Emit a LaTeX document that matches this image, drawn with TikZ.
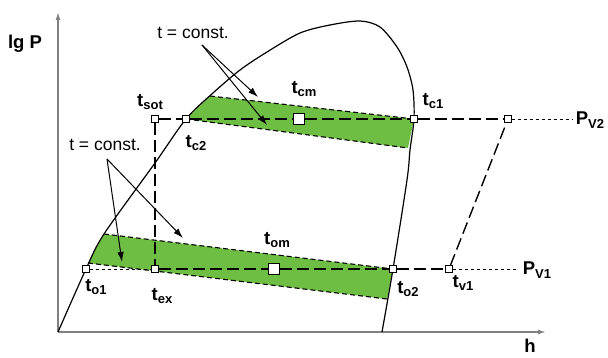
\documentclass[tikz,border=0pt]{standalone}
\usepackage{fontspec}
\setmainfont{Liberation Sans}
\usepackage{tikz}
\usetikzlibrary{arrows.meta}

\definecolor{bandgreen}{RGB}{110,190,68}
\definecolor{axisgray}{RGB}{128,128,128}
\newcommand{\tsub}[2]{#1\raisebox{-0.35ex}{\fontsize{13}{14}\selectfont #2}}

\begin{document}
\begin{tikzpicture}[x=1pt, y=-1pt,
    sq/.style={draw, fill=white, line width=0.8pt, minimum size=6.5pt, inner sep=0pt},
    bigsq/.style={sq, line width=1.3pt, minimum size=10.5pt},
    lbl/.style={font=\fontsize{18.5}{20}\selectfont\bfseries},
    note/.style={font=\fontsize{17.5}{20}\selectfont},
    bandedge/.style={line width=1.1pt, dash pattern=on 5pt off 3pt},
    press/.style={line width=1.4pt, dash pattern=on 12pt off 5pt},
    fine/.style={line width=0.7pt, dash pattern=on 3pt off 3pt},
    axis/.style={axisgray, line width=1.5pt, -{Latex[length=8pt,width=5pt]}},
    pointer/.style={line width=1pt, -{Latex[length=10pt,width=6.5pt]}}]
  \useasboundingbox (0,0) rectangle (608,358);

  % points of the diagram
  \coordinate (O) at (58,332);
  \coordinate (ytop) at (58,12);
  \coordinate (xend) at (546,332);
  \coordinate (hbot) at (382,332);
  \coordinate (po1) at (86,269);
  \coordinate (pex) at (155,269);
  \coordinate (pom) at (274,269);
  \coordinate (po2) at (393,269);
  \coordinate (pv1) at (449,269);
  \coordinate (pv1e) at (517,269);
  \coordinate (psot) at (155,119);
  \coordinate (pc2) at (186,119);
  \coordinate (pcm) at (299,119);
  \coordinate (pc1) at (414,119);
  \coordinate (pv2) at (508,119);
  \coordinate (pv2e) at (573,119);
  % corners of the bands
  \coordinate (ctl) at (210,96);
  \coordinate (cbr) at (408,148);
  \coordinate (etl) at (104,234);
  \coordinate (ebl) at (88,263);
  \coordinate (ebr) at (387,299);

  % bands
  \fill[bandgreen] (pc2) -- (ctl) -- (pc1) -- (cbr) -- cycle;
  \fill[bandgreen] (ebl) -- (etl) -- (po2) -- (ebr) -- cycle;

  % axes
  \draw[axis] (O) -- (ytop);
  \draw[axis] (O) -- (xend);

  % saturation curve
  \draw[line width=1.2pt] plot[smooth, tension=0.5] coordinates {
    (58,332) (86,269) (104,234) (155,163) (186,119) (213,93) (240,70)
    (267,52) (300,33) (330,25) (360,21) (380,27) (397,47) (407,67)
    (413,90) (414,119) (410,150) (407,180) (393,269) (382,332)};

  % band edges
  \draw[bandedge] (ctl) -- (pc1);
  \draw[bandedge] (pc2) -- (cbr);
  \draw[bandedge] (etl) -- (po2);
  \draw[bandedge] (ebl) -- (ebr);

  % state points
  \node[sq] (tsot) at (psot) {};
  \node[sq] (tc2) at (pc2) {};
  \node[bigsq] (tcm) at (pcm) {};
  \node[sq] (tc1) at (pc1) {};
  \node[sq] (tv2) at (pv2) {};
  \node[sq] (to1) at (po1) {};
  \node[sq] (tex) at (pex) {};
  \node[bigsq] (tom) at (pom) {};
  \node[sq] (to2) at (po2) {};
  \node[sq] (tv1) at (pv1) {};

  % pressure lines
  \draw[press] (tsot) -- (tc2);
  \draw[press] (tc2) -- (tcm);
  \draw[press] (tcm) -- (tc1);
  \draw[press] (tc1) -- (tv2);
  \draw[fine] (tv2) -- (pv2e);
  \draw[fine] (to1) -- (tex);
  \draw[press] (tex) -- (tom);
  \draw[press] (tom) -- (to2);
  \draw[press] (to2) -- (tv1);
  \draw[fine] (tv1) -- (pv1e);
  \draw[press] (tsot) -- (tex);
  \draw[press] (tv1) -- (tv2);

  % labels
  \node[lbl] (lgp) at (25,44) {lg P};
  \node[lbl, inner sep=1pt] (hlbl) at (530,346) {h};
  \node[lbl] (lsot) at (150,102) {\tsub{t}{sot}};
  \node[lbl] (lc2) at (196,143) {\tsub{t}{c2}};
  \node[lbl] (lcm) at (304,89) {\tsub{t}{cm}};
  \node[lbl] (lc1) at (433,101) {\tsub{t}{c1}};
  \node[lbl] (lv2) at (590,120) {\tsub{P}{V2}};
  \node[lbl] (lom) at (277,240) {\tsub{t}{om}};
  \node[lbl] (lo1) at (96,287) {\tsub{t}{o1}};
  \node[lbl] (lex) at (162,296) {\tsub{t}{ex}};
  \node[lbl] (lo2) at (408,289) {\tsub{t}{o2}};
  \node[lbl] (lv1) at (463,283) {\tsub{t}{v1}};
  \node[lbl] (lpv1) at (537,270) {\tsub{P}{V1}};

  % t = const. notes
  \node[note] (ctop) at (193,33) {t = const.};
  \node[note] (cbot) at (105,145) {t = const.};
  \coordinate (atop) at (202,45);
  \coordinate (abot) at (107,159);
  \coordinate (a1) at (258,97);
  \coordinate (a2) at (267,125);
  \coordinate (a3) at (122,262);
  \coordinate (a4) at (183,238);
  \draw[pointer] (atop) -- (a1);
  \draw[pointer] (atop) -- (a2);
  \draw[pointer] (abot) -- (a3);
  \draw[pointer] (abot) -- (a4);
\end{tikzpicture}
\end{document}
